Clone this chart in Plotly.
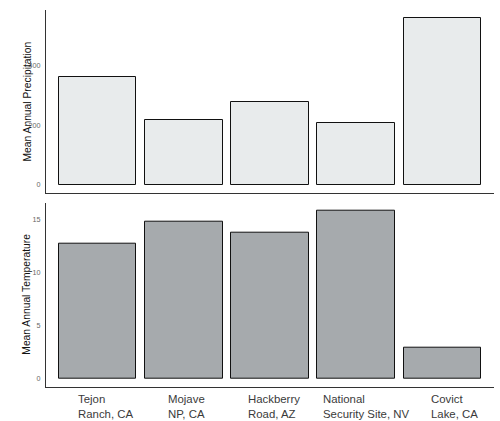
import plotly.graph_objects as go

# Site climate summaries
sites = ["Tejon Ranch, CA", "Mojave NP, CA", "Hackberry Road, AZ",
         "National Security Site, NV", "Covict Lake, CA"]
site_labels = ["Tejon<br>Ranch, CA", "Mojave<br>NP, CA", "Hackberry<br>Road, AZ",
               "National<br>Security Site, NV", "Covict<br>Lake, CA"]
precip = [361, 218, 277, 207, 558]
temp = [12.75, 14.8, 13.73, 15.81, 2.94]
precip_ticks = [0, 200, 400]
temp_ticks = [0, 5, 10, 15]

FONT = "Liberation Sans, Arial, Helvetica, sans-serif"
W, H = 500, 421

fig = go.Figure()
fig.add_trace(go.Bar(x=sites, y=precip, width=0.9, xaxis="x", yaxis="y",
                     marker=dict(color="#e8ebec", line=dict(color="#111111", width=1)),
                     showlegend=False))
fig.add_trace(go.Bar(x=sites, y=temp, width=0.9, xaxis="x2", yaxis="y2",
                     marker=dict(color="#a6aaad", line=dict(color="#111111", width=1)),
                     showlegend=False))


def pad(lo, hi):
    span = hi - lo
    return [lo - 0.05 * span, hi + 0.05 * span]


xdom = [46 / W, 494 / W]
top_dom = [1 - 193 / H, 1 - 10 / H]
bot_dom = [1 - 386.7 / H, 1 - 202.7 / H]

axis_line = dict(showline=True, linecolor="#333333", linewidth=1,
                 showgrid=False, zeroline=False, ticks="")
tick_font = dict(family=FONT, size=7.2, color="#666666")

fig.update_layout(
    width=W, height=H,
    margin=dict(l=0, r=0, t=0, b=0),
    paper_bgcolor="white", plot_bgcolor="white",
    bargap=0,
    font=dict(family=FONT),
    xaxis=dict(domain=xdom, anchor="y", range=[-0.6, 4.6], showticklabels=False,
               type="category", **axis_line),
    yaxis=dict(domain=top_dom, anchor="x", range=pad(0, max(precip)),
               tickvals=precip_ticks, tickfont=tick_font, ticklabelstandoff=3,
               **axis_line),
    xaxis2=dict(domain=xdom, anchor="y2", range=[-0.6, 4.6], showticklabels=False,
                type="category", **axis_line),
    yaxis2=dict(domain=bot_dom, anchor="x2", range=pad(0, max(temp)),
                tickvals=temp_ticks, tickfont=tick_font, ticklabelstandoff=3,
                **axis_line),
)

# Y-axis titles
for title, yc in [("Mean Annual Precipitation", sum(top_dom) / 2),
                  ("Mean Annual Temperature", sum(bot_dom) / 2)]:
    fig.add_annotation(text=title, xref="paper", yref="paper", x=27 / W, y=yc,
                       textangle=-90, showarrow=False, xanchor="center", yanchor="middle",
                       font=dict(family=FONT, size=10.3, color="#111111"))

# Category labels under the lower panel, left-aligned blocks
label_shift = [-22, -18, -24.5, -35, -13.5]
for s, lab, dx in zip(sites, site_labels, label_shift):
    fig.add_annotation(text=lab, x=s, xref="x2", y=1 - 390.5 / H, yref="paper",
                       xanchor="left", yanchor="top", align="left", xshift=dx,
                       showarrow=False,
                       font=dict(family=FONT, size=11.4, color="#3a3a3a"))

fig.write_html("out.html")
